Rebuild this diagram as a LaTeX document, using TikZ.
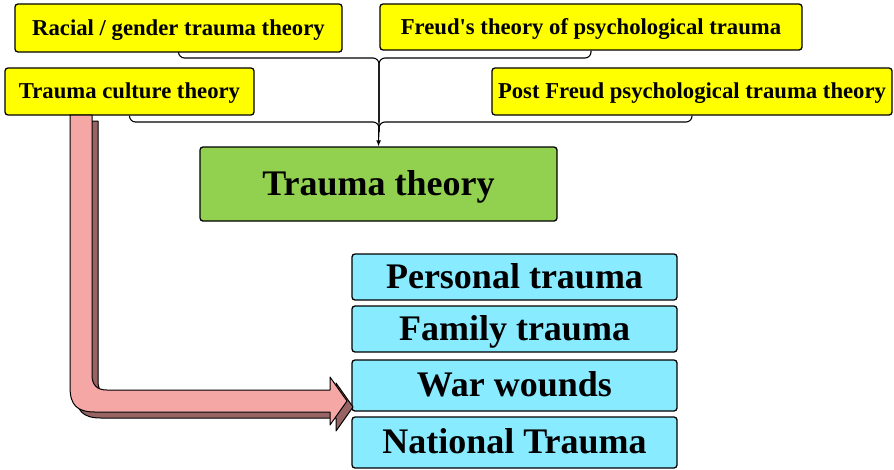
\documentclass[tikz,border=0pt]{standalone}
\usepackage{fontspec}
\setmainfont{Liberation Serif}
\usetikzlibrary{calc,arrows.meta}
\definecolor{ybox}{RGB}{255,255,0}
\definecolor{gbox}{RGB}{146,208,80}
\definecolor{bbox}{RGB}{137,235,255}
\definecolor{pinkarrow}{RGB}{245,167,166}
\definecolor{darkarrow}{RGB}{152,99,99}
\begin{document}
\begin{tikzpicture}[x=1pt,y=-1pt,
  box/.style={draw=black, line width=1.3pt, rounded corners=3pt, inner sep=0pt},
  smallbox/.style={box, fill=ybox, minimum height=47pt, text height=16.3pt, text depth=2.3pt, font=\fontsize{22.7}{26}\selectfont\bfseries},
  bigbox/.style={box, text height=26pt, text depth=3.6pt, font=\fontsize{36}{40}\selectfont\bfseries},
  conn/.style={draw=black, line width=1.1pt, rounded corners=6pt},
  arrowline/.style={draw=black, line width=1pt, line join=round}]
\useasboundingbox (0,0) rectangle (894,469);

% yellow source boxes
\node[smallbox, minimum width=327pt, minimum height=48pt] (racial) at (178.5,28) {Racial / gender trauma theory};
\node[smallbox, minimum width=422pt, minimum height=46pt] (freud) at (591,27) {Freud\textquotesingle s theory of psychological trauma};
\node[smallbox, minimum width=249pt] (culture) at (129.5,91.5) {Trauma culture theory};
\node[smallbox, minimum width=400pt] (postfreud) at (692,91.5) {Post Freud psychological trauma theory};

% central box
\node[bigbox, fill=gbox, minimum width=357pt, minimum height=74pt] (tt) at (378.5,184) {Trauma theory};

% blue boxes
\node[bigbox, fill=bbox, minimum width=325pt, minimum height=46pt] (personal) at (514.5,277) {Personal trauma};
\node[bigbox, fill=bbox, minimum width=325pt, minimum height=46pt] (family) at (514.5,329) {Family trauma};
\node[bigbox, fill=bbox, minimum width=325pt, minimum height=51pt] (war) at (514.5,385.5) {War wounds};
\node[bigbox, fill=bbox, minimum width=325pt, minimum height=51pt] (national) at (514.5,442.5) {National Trauma};

% connectors
\coordinate (j1) at (379,58);
\coordinate (j2) at (379,122);
\draw[conn] (racial.south) |- (j1) -- (j2);
\draw[conn] (freud.south) |- (j1) -- (j2);
\draw[conn] (culture.south) |- (j2) -- ($(j2)+(0,10)$);
\draw[conn] (postfreud.south) |- (j2) -- ($(j2)+(0,10)$);
\draw[line width=1.1pt, -{Latex[length=6pt,width=5pt]}] (j2) -- (tt.north);

% bent pink arrow with dark side
\def\bentarrow{(70,115) -- (70,387) .. controls (70,405) and (77,412) .. (95,412) -- (330,412) -- (330,425) -- (347,401) -- (330,377) -- (330,390) -- (107,390) .. controls (97,390) and (92,385) .. (92,375) -- (92,115) -- cycle}
\path[arrowline, fill=darkarrow, shift={(6,6)}] \bentarrow;
\path[arrowline, fill=pinkarrow] \bentarrow;
\end{tikzpicture}
\end{document}
